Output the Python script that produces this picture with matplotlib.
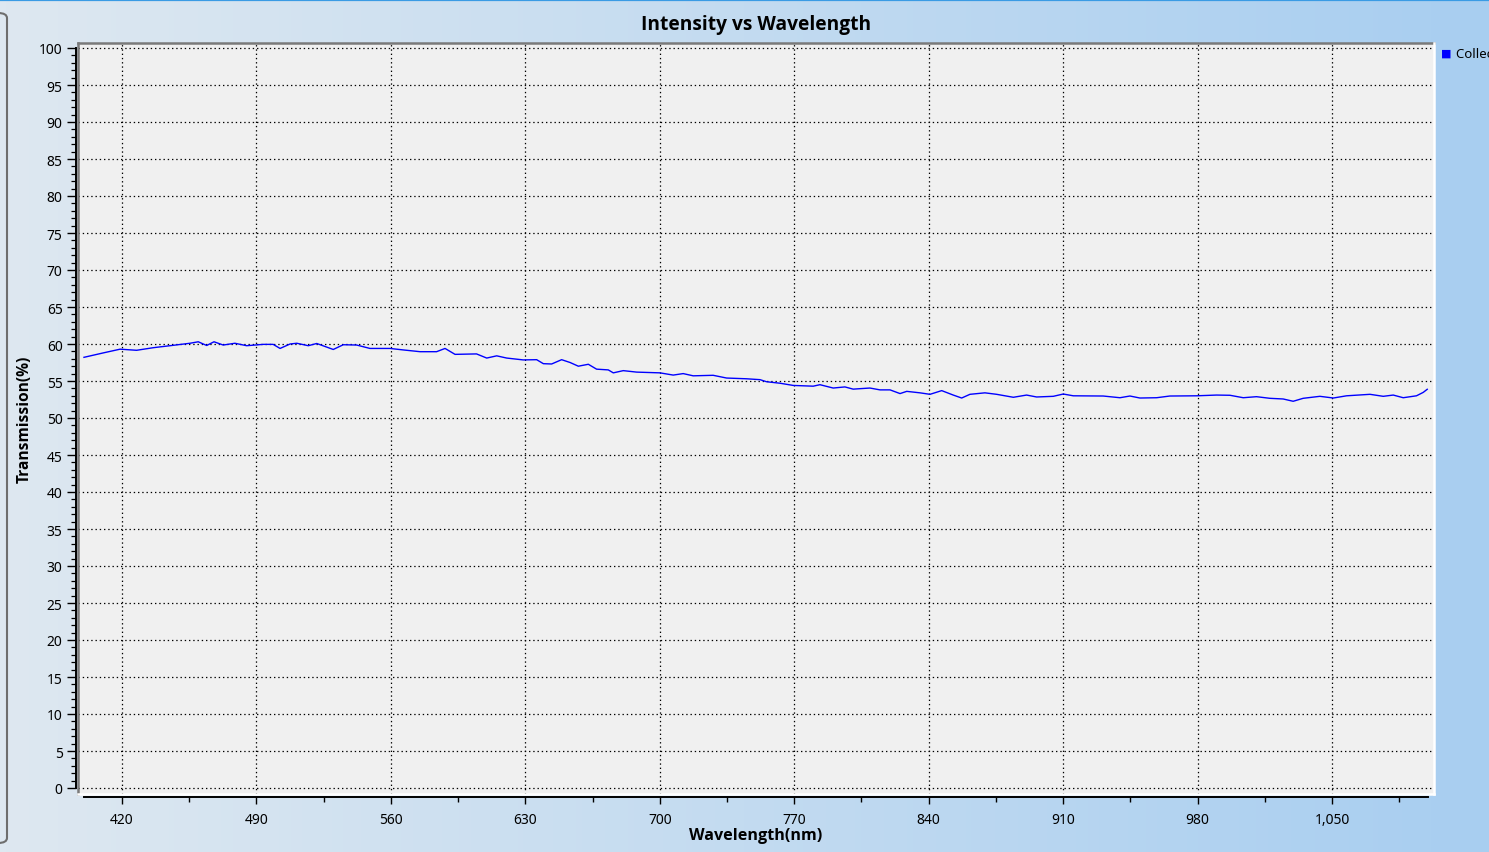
import numpy as np
import matplotlib
matplotlib.use("Agg")
import matplotlib.pyplot as plt
from matplotlib.lines import Line2D
from matplotlib.patches import FancyBboxPatch
from matplotlib.ticker import MultipleLocator, FixedLocator, FuncFormatter

plt.rcParams['font.family'] = ['Noto Sans', 'DejaVu Sans']

# transmission spectrum
wavelength = [400.2, 410.3, 419.0, 427.6, 436.3, 445.0, 455.4, 459.7, 464.1, 467.9,
              472.7, 478.8, 484.9, 493.5, 498.7, 502.3, 507.5, 511.0, 517.0, 521.4,
              530.0, 535.2, 542.2, 549.1, 559.5, 566.4, 575.2, 583.8, 588.2, 593.4,
              604.6, 609.9, 615.1, 620.3, 628.9, 635.9, 639.4, 643.7, 648.9, 653.3,
              657.6, 662.8, 667.1, 673.2, 675.8, 681.0, 688.0, 700.1, 707.0, 712.2,
              717.4, 727.8, 734.8, 745.2, 752.2, 755.6, 762.6, 769.5, 779.9, 783.4,
              790.3, 796.4, 800.7, 809.4, 814.7, 819.9, 825.1, 828.6, 835.5, 840.7,
              846.8, 852.8, 857.2, 861.5, 869.3, 875.4, 884.1, 891.0, 896.2, 904.9,
              910.1, 915.3, 930.9, 939.6, 944.8, 950.0, 958.7, 965.6, 979.5, 989.9,
              996.9, 1003.8, 1010.7, 1017.7, 1024.6, 1029.8, 1035.0, 1043.7, 1050.7, 1057.6,
              1069.8, 1076.7, 1081.9, 1087.1, 1094.0, 1097.5, 1099.6]
transmission = [58.2, 58.8, 59.3, 59.15, 59.5, 59.77, 60.1, 60.3, 59.8, 60.3,
                59.86, 60.1, 59.77, 59.95, 59.95, 59.4, 60.0, 60.1, 59.77, 60.07,
                59.26, 59.9, 59.86, 59.4, 59.4, 59.2, 58.96, 58.96, 59.4, 58.6,
                58.66, 58.1, 58.4, 58.1, 57.85, 57.88, 57.34, 57.3, 57.88, 57.5,
                57.0, 57.26, 56.6, 56.5, 56.1, 56.4, 56.2, 56.1, 55.8, 56.0,
                55.7, 55.77, 55.4, 55.3, 55.18, 54.9, 54.7, 54.4, 54.3, 54.5,
                54.05, 54.2, 53.9, 54.05, 53.8, 53.8, 53.3, 53.6, 53.4, 53.2,
                53.7, 53.1, 52.7, 53.2, 53.4, 53.2, 52.8, 53.1, 52.84, 52.93,
                53.24, 53.0, 52.97, 52.74, 52.97, 52.7, 52.74, 52.97, 53.0, 53.1,
                53.07, 52.74, 52.88, 52.66, 52.57, 52.26, 52.66, 52.93, 52.7, 53.0,
                53.2, 52.93, 53.1, 52.74, 53.0, 53.46, 53.88]

x_major = [420, 490, 560, 630, 700, 770, 840, 910, 980, 1050]
x_minor = [455, 525, 595, 665, 735, 805, 875, 945, 1015, 1085]

W, H = 1489, 853


def fx(px):
    return px / W


def fy(py):
    return 1 - py / H


fig = plt.figure(figsize=(W / 100, H / 100), dpi=100)

# window background gradient
bg = fig.add_axes([0, 0, 1, 1], zorder=-10)
grad = np.linspace(0, 1, 256)
c0 = np.array([222, 232, 241]) / 255
c1 = np.array([168, 206, 240]) / 255
img = c0[None, :] + (c1 - c0)[None, :] * grad[:, None]
bg.imshow(img[None, :, :], aspect='auto', extent=[0, 1, 0, 1])
bg.set_xlim(0, 1)
bg.set_ylim(0, 1)
bg.axis('off')
bg.add_line(Line2D([0, 1], [fy(1), fy(1)], color='#3a9be4', lw=1.6))
bg.add_patch(FancyBboxPatch((fx(-20), fy(844)), fx(27), fy(14) - fy(844),
                            boxstyle="round,pad=0,rounding_size=0.006",
                            fc='none', ec='#6e6e6e', lw=1.5))

L, R, T, B = 78, 1434, 44, 795
ax = fig.add_axes([fx(L), fy(B), fx(R) - fx(L), fy(T) - fy(B)])
ax.set_facecolor('#f0f0f0')
ax.set_xlim(420 + (L - 122) / 1.9206, 420 + (R - 122) / 1.9206)
ax.set_ylim((789 - B) / 7.4, (789 - T) / 7.4)

ax.plot(wavelength, transmission, color='#0000ff', lw=1.0)

ax.xaxis.set_major_locator(FixedLocator(x_major))
ax.xaxis.set_minor_locator(FixedLocator(x_minor))
ax.yaxis.set_major_locator(MultipleLocator(5))
ax.yaxis.set_minor_locator(MultipleLocator(1))
ax.xaxis.set_major_formatter(FuncFormatter(lambda v, p: f"{v:,.0f}"))
ax.grid(True, which='major', color='black', lw=0.9, linestyle=(0, (1.1, 2.3)))

for s in ['top', 'right']:
    ax.spines[s].set_visible(False)
ax.spines['left'].set_position(('outward', 1.6))
ax.spines['left'].set_bounds(0, 100)
ax.spines['bottom'].set_position(('outward', 2.4))
ax.spines['bottom'].set_bounds(400, 1100)
for s in ['left', 'bottom']:
    ax.spines[s].set_linewidth(1.4)
    ax.spines[s].set_color('black')

ax.tick_params(axis='y', which='major', length=6.5, width=1.0, pad=3, labelsize=10)
ax.tick_params(axis='y', which='minor', length=3.6, width=0.9)
ax.tick_params(axis='x', which='major', length=5.3, width=1.0, pad=5, labelsize=10)
ax.tick_params(axis='x', which='minor', length=3.6, width=1.0)

# plot area border: gray top/left, white bottom/right
for xs, ys, col in [([L, L], [T, B], '#7a7a7a'), ([L, R], [T, T], '#7a7a7a'),
                    ([R, R], [T, B], 'white'), ([L, R], [B, B], 'white')]:
    fig.add_artist(Line2D([fx(v) for v in xs], [fy(v) for v in ys], color=col, lw=1.8))

bold = ['Open Sans', 'DejaVu Sans']
fig.text(fx(756), fy(25), 'Intensity vs Wavelength', ha='center', va='center',
         fontsize=13.8, fontweight='bold', family=bold)
fig.text(fx(756), fy(836), 'Wavelength(nm)', ha='center', va='center',
         fontsize=11.6, fontweight='bold', family=bold)
fig.text(fx(25), fy(419), 'Transmission(%)', ha='center', va='center',
         fontsize=11.2, fontweight='bold', rotation=90, family=bold)

# legend (cut off by the window edge, as in the original window)
fig.text(fx(1446), fy(54), '\u25a0', color='#0000ff', ha='center', va='center', fontsize=8,
         family=['DejaVu Sans'])
fig.text(fx(1456), fy(54), 'Collected Data', ha='left', va='center', fontsize=9.5)

fig.savefig('out.png', dpi=100)
